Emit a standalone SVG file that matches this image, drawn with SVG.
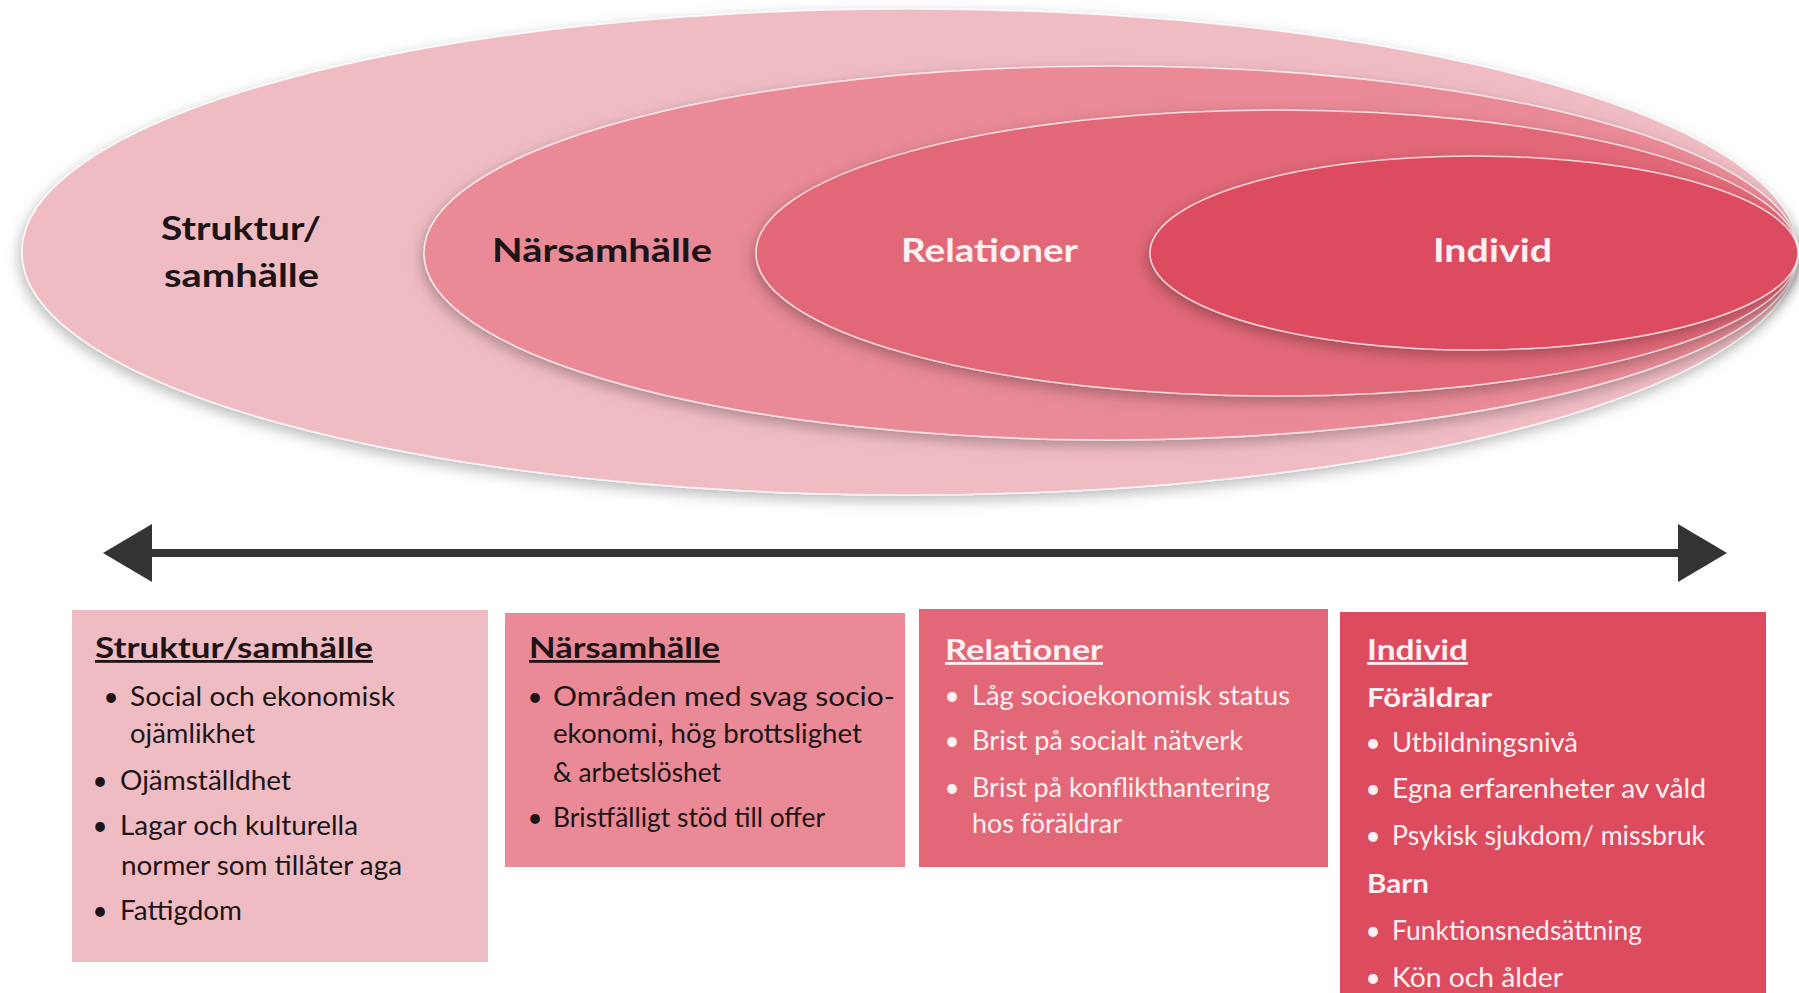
<svg xmlns="http://www.w3.org/2000/svg" width="1799" height="993" viewBox="0 0 1799 993">
  <defs>
    <filter id="shadow" x="-5%" y="-10%" width="112%" height="130%">
      <feDropShadow dx="-2" dy="5" stdDeviation="7" flood-color="#000" flood-opacity="0.28"/>
    </filter>
    <marker id="head" markerUnits="userSpaceOnUse" markerWidth="50" markerHeight="58" viewBox="0 0 50 58" refX="7" refY="29" orient="auto-start-reverse">
      <path d="M0,0 L49,29 L0,58 z" fill="#333333"/>
    </marker>
    <style>
      .ell { stroke: #ffffff; stroke-opacity: 0.75; stroke-width: 1.5; filter: url(#shadow); }
      .lbl { font-family: Lato, "Liberation Sans", sans-serif; font-weight: 700; font-size: 33px; }
      .ttl { font-family: Lato, "Liberation Sans", sans-serif; font-weight: 700; font-size: 28px; text-decoration: underline; }
      .sub { font-family: Lato, "Liberation Sans", sans-serif; font-weight: 700; font-size: 27px; }
      .txt { font-family: Lato, "Liberation Sans", sans-serif; font-size: 26px; }
      .bul { font-family: Lato, "Liberation Sans", sans-serif; font-size: 26px; text-anchor: middle; }
      .dark { fill: #1c1416; }
      .light { fill: #fdf0f2; }
    </style>
  </defs>
  <rect width="1799" height="993" fill="#ffffff"/>

  <g id="ellipse-struktur">
    <ellipse class="ell" cx="910" cy="252" rx="888" ry="243" fill="#F0BCC4"/>
    <text class="lbl dark" x="161" y="240" textLength="160" lengthAdjust="spacingAndGlyphs">Struktur/</text>
    <text class="lbl dark" x="164" y="287" textLength="155" lengthAdjust="spacingAndGlyphs">samhälle</text>
  </g>
  <g id="ellipse-narsamhalle">
    <ellipse class="ell" cx="1111" cy="253" rx="687" ry="187" fill="#E98A96"/>
    <text class="lbl dark" x="492" y="262" textLength="220" lengthAdjust="spacingAndGlyphs">Närsamhälle</text>
  </g>
  <g id="ellipse-relationer">
    <ellipse class="ell" cx="1277" cy="253" rx="521" ry="143" fill="#E26878"/>
    <text class="lbl light" x="901" y="262" textLength="177" lengthAdjust="spacingAndGlyphs">Relationer</text>
  </g>
  <g id="ellipse-individ">
    <ellipse class="ell" cx="1474" cy="253" rx="324" ry="97" fill="#DC4C5E"/>
    <text class="lbl light" x="1433" y="262" textLength="119" lengthAdjust="spacingAndGlyphs">Individ</text>
  </g>

  <g id="connectors">
    <line x1="145" y1="553" x2="1685" y2="553" stroke="#333333" stroke-width="8" marker-start="url(#head)" marker-end="url(#head)"/>
  </g>

  <g id="box-struktur">
    <rect x="72" y="610" width="416" height="352" fill="#F0BCC4"/>
    <text class="ttl dark" x="95" y="658" textLength="278" lengthAdjust="spacingAndGlyphs">Struktur/samhälle</text>
    <text class="bul dark" x="111" y="706">•</text>
    <text class="txt dark" x="130" y="706" textLength="265" lengthAdjust="spacingAndGlyphs">Social och ekonomisk</text>
    <text class="txt dark" x="130" y="743" textLength="125" lengthAdjust="spacingAndGlyphs">ojämlikhet</text>
    <text class="bul dark" x="100" y="790">•</text>
    <text class="txt dark" x="120" y="790" textLength="171" lengthAdjust="spacingAndGlyphs">Ojämställdhet</text>
    <text class="bul dark" x="100" y="835">•</text>
    <text class="txt dark" x="120" y="835" textLength="238" lengthAdjust="spacingAndGlyphs">Lagar och kulturella</text>
    <text class="txt dark" x="121" y="875" textLength="281" lengthAdjust="spacingAndGlyphs">normer som tillåter aga</text>
    <text class="bul dark" x="100" y="920">•</text>
    <text class="txt dark" x="120" y="920" textLength="122" lengthAdjust="spacingAndGlyphs">Fattigdom</text>
  </g>

  <g id="box-narsamhalle">
    <rect x="505" y="613" width="400" height="254" fill="#E98A96"/>
    <text class="ttl dark" x="529" y="658" textLength="191" lengthAdjust="spacingAndGlyphs">Närsamhälle</text>
    <text class="bul dark" x="535" y="706">•</text>
    <text class="txt dark" x="553" y="706" textLength="342" lengthAdjust="spacingAndGlyphs">Områden med svag socio-</text>
    <text class="txt dark" x="553" y="743" textLength="309" lengthAdjust="spacingAndGlyphs">ekonomi, hög brottslighet</text>
    <text class="txt dark" x="553" y="782" textLength="168" lengthAdjust="spacingAndGlyphs">&amp; arbetslöshet</text>
    <text class="bul dark" x="535" y="827">•</text>
    <text class="txt dark" x="553" y="827" textLength="272" lengthAdjust="spacingAndGlyphs">Bristfälligt stöd till offer</text>
  </g>

  <g id="box-relationer">
    <rect x="919" y="609" width="409" height="258" fill="#E26878"/>
    <text class="ttl light" x="945" y="660" textLength="158" lengthAdjust="spacingAndGlyphs">Relationer</text>
    <text class="bul light" x="952" y="705">•</text>
    <text class="txt light" x="972" y="705" textLength="318" lengthAdjust="spacingAndGlyphs">Låg socioekonomisk status</text>
    <text class="bul light" x="952" y="750">•</text>
    <text class="txt light" x="972" y="750" textLength="271" lengthAdjust="spacingAndGlyphs">Brist på socialt nätverk</text>
    <text class="bul light" x="952" y="797">•</text>
    <text class="txt light" x="972" y="797" textLength="298" lengthAdjust="spacingAndGlyphs">Brist på konflikthantering</text>
    <text class="txt light" x="972" y="833" textLength="150" lengthAdjust="spacingAndGlyphs">hos föräldrar</text>
  </g>

  <g id="box-individ">
    <rect x="1340" y="612" width="426" height="381" fill="#DC4C5E"/>
    <text class="ttl light" x="1367" y="660" textLength="101" lengthAdjust="spacingAndGlyphs">Individ</text>
    <text class="sub light" x="1367" y="707" textLength="125" lengthAdjust="spacingAndGlyphs">Föräldrar</text>
    <text class="bul light" x="1373" y="752">•</text>
    <text class="txt light" x="1392" y="752" textLength="186" lengthAdjust="spacingAndGlyphs">Utbildningsnivå</text>
    <text class="bul light" x="1373" y="798">•</text>
    <text class="txt light" x="1392" y="798" textLength="314" lengthAdjust="spacingAndGlyphs">Egna erfarenheter av våld</text>
    <text class="bul light" x="1373" y="845">•</text>
    <text class="txt light" x="1392" y="845" textLength="313" lengthAdjust="spacingAndGlyphs">Psykisk sjukdom/ missbruk</text>
    <text class="sub light" x="1367" y="893" textLength="62" lengthAdjust="spacingAndGlyphs">Barn</text>
    <text class="bul light" x="1373" y="940">•</text>
    <text class="txt light" x="1392" y="940" textLength="250" lengthAdjust="spacingAndGlyphs">Funktionsnedsättning</text>
    <text class="bul light" x="1373" y="987">•</text>
    <text class="txt light" x="1392" y="987" textLength="171" lengthAdjust="spacingAndGlyphs">Kön och ålder</text>
  </g>
</svg>
